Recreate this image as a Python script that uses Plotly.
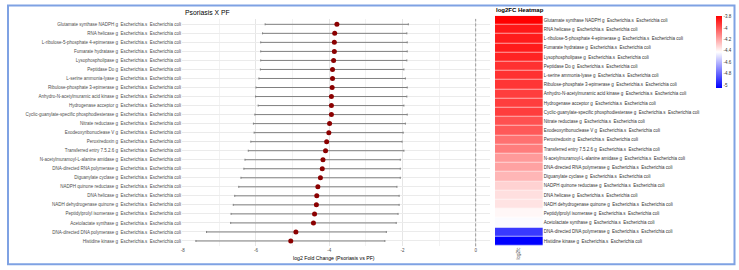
import plotly.graph_objects as go

W, H = 739, 270

labels = [
    "Glutamate synthase NADPH g", "RNA helicase g", "L-ribulose-5-phosphate 4-epimerase g",
    "Fumarate hydratase g", "Lysophospholipase g", "Peptidase Do g", "L-serine ammonia-lyase g",
    "Ribulose-phosphate 3-epimerase g", "Anhydro-N-acetylmuramic acid kinase g",
    "Hydrogenase acceptor g", "Cyclic-guanylate-specific phosphodiesterase g",
    "Nitrate reductase g", "Exodeoxyribonuclease V g", "Peroxiredoxin g",
    "Transferred entry 7.5.2.6 g", "N-acetylmuramoyl-L-alanine amidase g",
    "DNA-directed RNA polymerase g", "Diguanylate cyclase g", "NADPH quinone reductase g",
    "DNA helicase g", "NADH dehydrogenase quinone g", "Peptidylprolyl isomerase g",
    "Acetolactate synthase g", "DNA-directed DNA polymerase g", "Histidine kinase g",
]
suffix = "\u00a0 Escherichia.s\u00a0 Escherichia coli"
features = [l + suffix for l in labels]

log2fc = [-3.79, -3.85, -3.86, -3.86, -3.88, -3.91, -3.91, -3.92, -3.94, -3.94,
          -3.94, -3.99, -4.01, -4.07, -4.10, -4.17, -4.19, -4.24, -4.31, -4.34,
          -4.35, -4.40, -4.43, -4.91, -5.05]
ci_low = [-5.75, -5.82, -5.87, -5.87, -5.87, -5.88, -5.92, -6.00, -6.01, -5.94,
          -6.03, -6.07, -6.05, -6.14, -6.21, -6.30, -6.33, -6.41, -6.47, -6.58,
          -6.62, -6.68, -6.69, -7.35, -7.64]
ci_high = [-1.84, -1.88, -1.87, -1.87, -1.88, -1.96, -1.92, -1.87, -1.88, -1.96,
           -1.87, -1.92, -1.98, -2.01, -1.96, -2.06, -2.06, -2.06, -2.15, -2.09,
           -2.09, -2.12, -2.17, -2.44, -2.48]

x_ticks = [-8, -6, -4, -2, 0]
cb_ticks = [-3.8, -4.0, -4.2, -4.4, -4.6, -4.8, -5.0]
cb_text = ["-3.8", "-4", "-4.2", "-4.4", "-4.6", "-4.8", "-5"]

def px(v):
    return v / W

def py(v):
    return 1 - v / H

n = len(features)
FONT = "Liberation Sans, Arial, sans-serif"

fig = go.Figure()
fig.add_trace(go.Scatter(
    x=log2fc, y=features, mode="markers",
    marker=dict(color="#8b0000", size=5),
    error_x=dict(type="data", symmetric=False,
                 array=[h - v for h, v in zip(ci_high, log2fc)],
                 arrayminus=[v - l for v, l in zip(log2fc, ci_low)],
                 color="#808080", thickness=1, width=1),
    xaxis="x", yaxis="y", showlegend=False, hoverinfo="skip",
))
fig.add_trace(go.Heatmap(
    z=[[v] for v in log2fc], x=["log2fc"], y=features,
    xaxis="x2", yaxis="y2",
    colorscale=[[0, "#0000ff"], [0.5, "#ffffff"], [1, "#ff0000"]],
    zmin=min(log2fc), zmax=max(log2fc), ygap=0.6,
    colorbar=dict(x=px(716), xanchor="left", xpad=0, ypad=0,
                  y=py(16), yanchor="top", lenmode="pixels", len=72,
                  thickness=6, outlinewidth=0,
                  tickvals=cb_ticks, ticktext=cb_text, ticks="",
                  tickfont=dict(size=4.5, color="#333333", family=FONT)),
))

fig.update_layout(
    width=W, height=H, margin=dict(l=0, r=0, t=0, b=0),
    paper_bgcolor="white", plot_bgcolor="white",
    font=dict(family=FONT),
    xaxis=dict(domain=[px(182), px(489.6)], range=[-8.02, 0.38],
               tickvals=x_ticks, ticktext=[str(t) for t in x_ticks],
               tickfont=dict(size=4.5, color="#4d4d4d"), ticks="",
               showgrid=True, gridcolor="#e6e6e6", gridwidth=0.6,
               minor=dict(dtick=1, tick0=0, showgrid=True, gridcolor="#f2f2f2", gridwidth=0.4),
               zeroline=False, showline=False, automargin=False, anchor="y"),
    yaxis=dict(domain=[py(246.4), py(18.9)], range=[n - 0.4, -0.6],
               type="category", tickfont=dict(size=4.5, color="#4d4d4d"), ticks="",
               showgrid=True, gridcolor="#ebebeb", gridwidth=0.6,
               zeroline=False, showline=False, automargin=False, anchor="x"),
    xaxis2=dict(domain=[px(495), px(542.7)], tickangle=-90, ticks="",
                tickfont=dict(size=4.5, color="#4d4d4d"), showgrid=False,
                zeroline=False, automargin=False, anchor="y2"),
    yaxis2=dict(domain=[py(245.7), py(15.7)], range=[n - 0.5, -0.5],
                type="category", side="right", ticks="",
                tickfont=dict(size=4.5, color="#333333"), showgrid=False,
                zeroline=False, automargin=False, anchor="x2"),
    shapes=[
        dict(type="line", xref="x", yref="y domain", x0=0, x1=0, y0=0, y1=1,
             line=dict(color="#888888", width=0.8, dash="3px,2px")),
        dict(type="rect", xref="paper", yref="paper",
             x0=px(8), x1=px(734.5), y0=py(264.3), y1=py(5.5),
             line=dict(color="#7fa2e3", width=2)),
    ],
    annotations=[
        dict(text="Psoriasis X PF", xref="paper", yref="paper", x=px(182.5), y=py(12.7),
             xanchor="left", yanchor="middle", showarrow=False,
             font=dict(size=6.8, color="black")),
        dict(text="<b>log2FC Heatmap</b>", xref="paper", yref="paper", x=px(494), y=py(10.5),
             xanchor="left", yanchor="middle", showarrow=False,
             font=dict(size=6, color="black")),
        dict(text="log2 Fold Change (Psoriasis vs PF)", xref="paper", yref="paper",
             x=px(334.3), y=py(257.7), xanchor="center", yanchor="middle", showarrow=False,
             font=dict(size=5.2, color="black")),
    ],
)

fig.write_html("out.html")
